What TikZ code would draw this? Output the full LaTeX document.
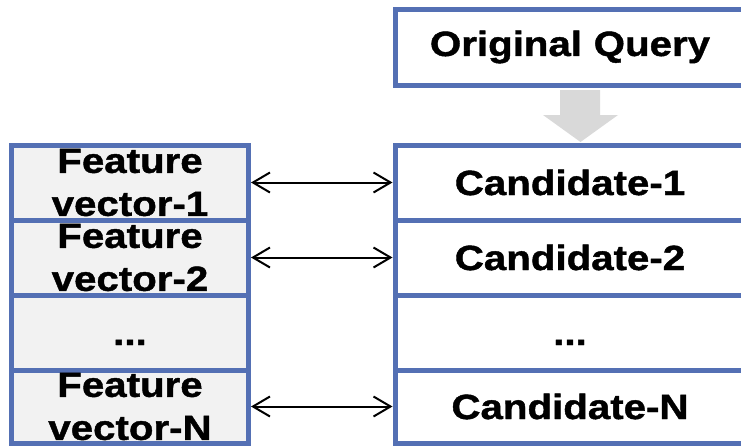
\documentclass[tikz,border=0pt]{standalone}
\usepackage{fontspec}
\newfontfamily\lblfont{Liberation Sans}[FakeStretch=1.15,BoldFeatures={FakeBold=1.2}]
\usetikzlibrary{arrows.meta}
\definecolor{boxblue}{RGB}{84,112,180}
\definecolor{cellgray}{RGB}{242,242,242}
\definecolor{flowgray}{RGB}{217,217,217}
\newcommand{\ellipsisrow}{\smash{\raisebox{-12.5pt}{...}}}
\begin{document}
\begin{tikzpicture}[x=1pt,y=-1pt,
  cell/.style={draw=boxblue, line width=5pt, inner sep=0pt, align=center,
    font=\lblfont\bfseries\fontsize{35}{43}\selectfont},
  featcell/.style={cell, fill=cellgray, minimum width=237pt, text width=230pt},
  candcell/.style={cell, fill=white, minimum width=350pt, text width=330pt},
  link/.style={{Straight Barb[length=17pt,width=20pt]}-{Straight Barb[length=17pt,width=20pt]},
    line width=2pt, black}
]
\useasboundingbox (0,0) rectangle (741,445);

% query box and the flow arrow below it
\node[candcell, minimum height=76pt] (query) at (570,47) {Original Query};
\fill[flowgray] (560,90) -- (600,90) -- (600,115) -- (618,115) -- (580.5,142)
  -- (543,115) -- (560,115) -- cycle;

% candidate list
\node[candcell, minimum height=75pt] (c1) at (570,182.5) {Candidate-1};
\node[candcell, minimum height=75pt] (c2) at (570,257.5) {Candidate-2};
\node[candcell, minimum height=75pt] (c3) at (570,332.5) {\ellipsisrow};
\node[candcell, minimum height=73pt] (cN) at (570,406.5) {Candidate-N};

% feature vectors
\node[featcell, minimum height=75pt] (f1) at (130,182.5) {Feature\\vector-1};
\node[featcell, minimum height=75pt] (f2) at (130,257.5) {Feature\\vector-2};
\node[featcell, minimum height=75pt] (f3) at (130,332.5) {\ellipsisrow};
\node[featcell, minimum height=73pt] (fN) at (130,406.5) {Feature\\vector-N};

% correspondences
\draw[link] (f1.east) -- (c1.west);
\draw[link] (f2.east) -- (c2.west);
\draw[link] (fN.east) -- (cN.west);
\end{tikzpicture}
\end{document}
